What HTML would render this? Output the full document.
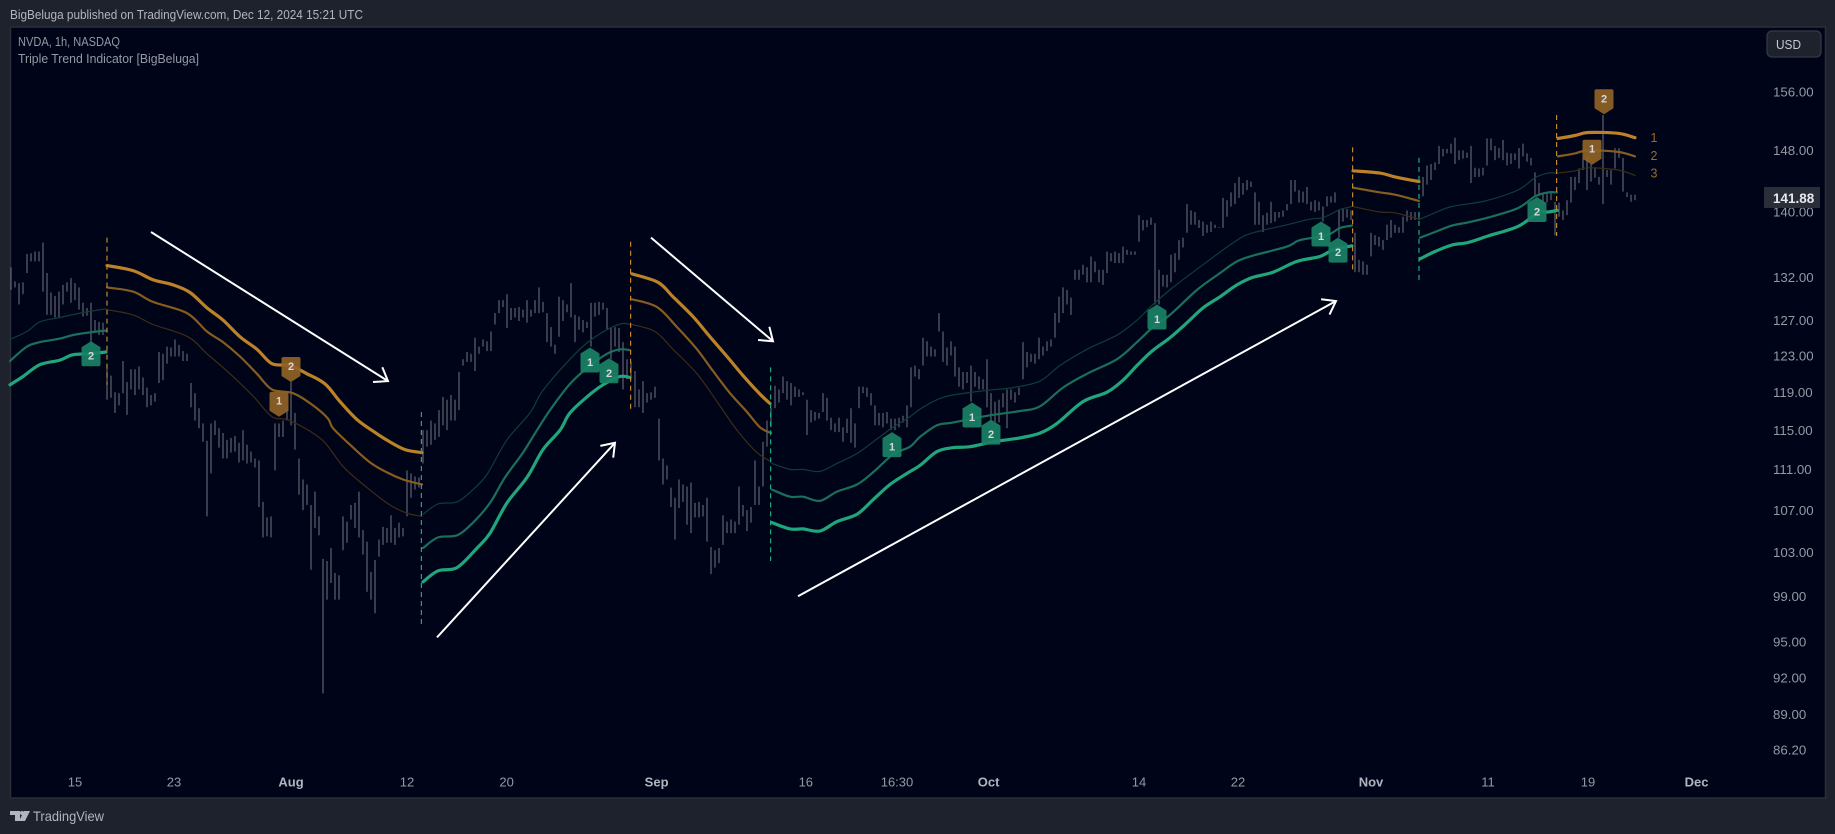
<!DOCTYPE html>
<html lang="en">
<head>
<meta charset="utf-8">
<title>NVDA 1h Triple Trend Indicator</title>
<style>
html,body{margin:0;padding:0;background:#1e222d;width:1835px;height:834px;overflow:hidden}
svg{display:block;font-family:"Liberation Sans",sans-serif}
</style>
</head>
<body>
<svg id="chart" xmlns="http://www.w3.org/2000/svg" width="1835" height="834" viewBox="0 0 1835 834">
  <rect x="0" y="0" width="1835" height="834" fill="#1e222d"/>
  <text x="10" y="19" font-size="12.5" fill="#b2b5be" textLength="353" lengthAdjust="spacingAndGlyphs">BigBeluga published on TradingView.com, Dec 12, 2024 15:21 UTC</text>
  <rect x="10.5" y="27" width="1815" height="771" fill="#000419" stroke="#2a2e39" stroke-width="1.5"/>
  <g id="plot"></g>
  <text x="18" y="46" font-size="12.5" fill="#9598a1" textLength="102" lengthAdjust="spacingAndGlyphs">NVDA, 1h, NASDAQ</text>
  <text x="18" y="63" font-size="12.5" fill="#9598a1" textLength="181" lengthAdjust="spacingAndGlyphs">Triple Trend Indicator [BigBeluga]</text>
  <g>
    <rect x="1767" y="31" width="54" height="26" rx="5" fill="#1e222d" stroke="#363a45" stroke-width="1.2"/>
    <text x="1776" y="49" font-size="13" fill="#c8cad2" textLength="25" lengthAdjust="spacingAndGlyphs">USD</text>
  </g>
  <g id="price-axis"></g>
  <g id="time-axis"></g>
  <g>
    <rect x="1764" y="187" width="56" height="21" fill="#2a2e39"/>
    <text x="1773" y="203" font-size="13.5" font-weight="bold" fill="#e6e8ee">141.88</text>
  </g>
  <g>
    <path d="M10 811h10v10h-5v-6h-5z M24 811h6l-5 10h-6z" fill="#b2b5be"/>
    <circle cx="22" cy="813" r="2" fill="#b2b5be"/>
    <text x="33" y="821" font-size="14" fill="#b2b5be" textLength="71" lengthAdjust="spacingAndGlyphs">TradingView</text>
  </g>
</svg>
<script>
// ---- price bars (bar highs / lows, one value per bar) ----
const barHighs = [
133.2,131.5,131.3,131.4,134.8,134.9,135.1,135.1,136.2,132.5,
130.2,129.8,130.3,131.1,131.4,131.9,131.3,130.8,129,128.4,
129,127,126.8,126.7,122.1,120.8,119,118.9,122.4,120.1,
121.5,121.5,121.8,120.6,119.5,118.7,118.9,123.4,123.2,124,
123.9,124.8,124.2,123.5,123.2,120,118.9,117.3,115.7,113.9,
115.7,116,115.2,114.7,114,114.2,114.4,113.7,115,113.5,
112.8,112.1,111.9,107.8,106.3,106.4,115.7,115.7,116,117.4,
120.1,116.8,112.1,110,109.5,107.5,108.8,106.4,102.4,102.2,
103.4,101.1,100.9,106.4,105.9,107.5,107.7,108.8,105.1,104,
101.2,102.3,104.2,105.4,105.3,106.5,105.3,105.8,105.3,110.9,
110.6,110.3,110.2,115,115,116,115.7,117.1,118.5,118.2,
118.7,118.2,121.2,122.6,123.4,123.2,125,124,124.8,124.6,
125.7,127.8,129.3,129.3,130,128.4,128.4,128.5,128.2,129.3,
128.2,129.3,130.8,129.1,127.8,126.2,124.2,129.7,129.3,128.8,
131.3,127.6,127.4,127,126.8,129,129,129.1,129,128.4,
126.1,126.2,126.1,124.5,122.6,122.3,121.3,119.3,120.2,118.9,
119,119.6,116.2,112.1,111.4,109.2,108.2,110,109.5,109.3,
109.7,107.7,107.8,107.5,108.2,103.5,103.2,103.4,106.5,105.9,
106.1,105.9,109.3,107.5,107,107.3,111.9,109.3,113.8,116,
117.3,119.7,119.3,120.7,120.2,120,119.6,119.3,119,118.2,
117.1,116.9,116.8,118.9,118.4,116.3,115.7,116.3,115.3,116.2,
117.3,115.7,119.6,119.6,119.5,118.9,117.6,116.8,116.8,116.9,
116.2,116.2,116.3,116.5,117.6,121.7,121.9,121.5,125,124.6,
124,123.7,127.8,125.7,123.9,124.6,124,121.7,121.2,121.2,
121.9,121.2,120.7,120.4,122.6,118.9,118,118.2,118.9,119.3,
119.3,119,119.5,124.5,123.4,123.2,123.2,125,124,124.6,
124.8,127.8,129.7,130.8,130.5,129.6,132.9,132.9,133.5,133.2,
134.5,133.9,132.9,132.9,135.1,134.9,135.1,134.9,135.7,135.3,
135.1,135.1,139.6,139,139,139.3,138.6,132.9,132.3,132.3,
134.7,134.9,136.5,136.8,141,140.2,140,139,138.8,138.4,
138.8,138.4,138.1,141.8,141.5,142.5,143.7,144.5,143.7,144.1,
143.9,142.5,141.3,139.6,139.9,141.3,140,140,140.2,141,
144.1,144.1,142.8,142.6,143.2,141.3,141.5,141.3,140.7,142,
142,142.5,140.2,140.4,140.4,140.2,137.4,134.1,133.9,133.5,
137.4,137.1,136.9,136.5,138.4,139,138.4,138.1,139.4,140.2,
140,140,140,144.5,146,146.2,146.4,148.6,148.2,148.2,
148.9,149.7,148,148,147.7,148.6,145.7,145.6,145.7,149.6,
149.6,148.6,148.3,149.4,147.7,147.6,147.6,148.3,148.9,147.6,
147,145.1,143.7,142.5,142.6,142.5,141.3,141.2,140.2,141.5,
144.5,144.5,145.6,147,147.2,146.2,145.7,144.5,152.8,145.4,
145.4,148.3,148.3,147,142.5,142.2,142.2];
const barLows = [
130.5,130.8,128.8,130,132.5,133.9,133.9,133.9,130.3,127.6,
127.6,127.3,127.3,128.8,130.3,129,129.3,128.2,127.4,127.5,
124,125.6,125.3,125.3,118.2,118.4,116.8,117.6,118.9,116.6,
119.3,118.7,119.3,118.7,117.4,117.6,118,120,120.3,122.1,
122.9,122.9,122.9,122.4,122.4,117.4,116,115.2,113.8,106.4,
110.6,114.5,113.2,112.1,112.1,112.7,112.8,111.7,111.9,111.6,
111.7,111.2,107.3,104.4,104.5,104.4,110.9,114.3,114.3,116,
115.5,113,108.5,107,107.5,101.4,105.3,104.6,90.7,98.7,
100.2,98.7,98.7,103.2,103.9,106.1,105.3,104.4,102.8,99.4,
98.7,97.5,102.6,103.7,103.9,103.9,103.7,104.4,104.5,106.4,
108.2,109,109.2,111.6,113.3,113.5,114,114.3,115.5,115,
116,116,117.1,121.9,122.3,122.3,121.3,123.2,124,123.5,
123.5,126.5,127.8,128.5,126.1,127,127.3,126.9,127.3,126.7,
127.4,127.8,127.8,127.9,124.5,124,123.2,125.1,126.9,127.9,
127.3,124.5,125.9,125.6,126.1,124,127.4,127.6,128.2,125.9,
122.6,124,123.4,119.3,120.4,120.4,117.4,117.4,116.8,117.9,
118.2,118.4,111.9,109.5,110,107.3,104.2,107.2,107.8,105.6,
104.8,106.3,106.3,106.4,104,101,101.6,102,103.7,104.8,
104.8,104.8,105.6,106.4,105,105.8,107.5,107.5,109.3,113.3,
115.3,117.3,117.9,118.9,118.2,117.6,118.5,118.5,118.7,114.5,
115.8,116,116.2,116.9,116,115,114.8,114.8,113.8,114.7,
113.7,113.2,117.3,118.9,118.5,117.6,115.5,115.5,115.3,115.7,
115,115,115.3,115.8,115.3,117.4,120.7,120.4,121.9,122.9,
122.9,122.9,125.7,122.3,121.9,123,120.7,119.6,119.3,120,
118,119.6,119.3,119.3,117.4,116,115.8,115.8,117.4,115.2,
118.2,117.9,118.7,120.4,121.7,122.3,122.1,122.6,123,123.5,
124,125,126.7,127.8,128.8,127.6,131.7,131.7,132.3,131.4,
131.4,132.6,131.4,131.1,132.5,133.9,133.7,133.7,133.7,134.7,
134.7,134.7,136.3,137.7,138.1,138.4,128.8,128.8,130.9,130.8,
131.4,132.6,134.1,135.6,137.4,138.4,138.4,138,137,137.4,
137.5,138,138,138,139.4,140.7,141,141.8,142.2,142.8,
143.2,138.4,138.4,137.5,138.4,138.6,138.8,139.3,139.4,140.2,
141,142.6,141.2,141.2,141,140.2,140,140.2,138.8,140.7,
141.2,141.2,136.8,138.8,139.3,139,132.6,132.6,132.3,132.3,
134.5,135.9,135.7,135.3,136.5,136.8,137.4,137.4,137.4,138.8,
139,139,139,142,143.5,144.1,145.4,146.2,147.2,147.6,
147.6,146.2,146.7,146.9,147,143.7,144.5,144.5,144.7,146,
148,146.7,147,146.7,146,146.2,146.7,145.6,147.2,146.5,
146,142,142,141,141.2,141.5,137.1,139.4,139,139.6,
141.2,142.8,143.7,145.4,142.8,143.9,144.4,143.5,141,144.5,
143.5,145.6,147,142.6,141.9,141.3,141.5];

// ---- trend lines: [bar index, price] samples ----
const bull1Outer = [[-0.25,119.8],[3,120.7],[7.25,122],[12.25,122.5],[15.5,123.1],[19.75,123.2],[23.75,123.4]];
const bull1Middle = [[-0.25,122.4],[4,124],[7.25,124.5],[12.25,124.9],[15.5,125.3],[19.75,125.6],[23.75,125.8]];
const bull1Inner = [[-0.25,124.8],[4,125.7],[7.25,126.8],[12.25,127.3],[17.25,127.8],[23.75,128.3]];
const bear1Outer = [[24,133.4],[30.5,132.8],[35.5,131.7],[40.5,131.1],[44.75,130.2],[49,128.4],[53,127],[57.25,125.1],[61.5,123.7],[65.25,122.1],[69.75,121.9],[74,121],[78.5,119.9],[82.25,118],[86.5,116.1],[90.5,114.9],[94.25,113.9],[98.5,113],[102.75,112.7]];
const bear1Middle = [[24,130.8],[30.5,130.3],[35.5,129.1],[44,127.8],[49,125.7],[53,124.5],[57.25,122.9],[61.5,121],[65.25,119.3],[70.5,118.9],[75.5,117.6],[79.25,116.2],[80.5,115.2],[84.75,113.5],[89.75,111.7],[94,110.7],[98,110],[102.75,109.5]];
const bear1Inner = [[24,128.2],[30.5,127.6],[35.5,126.5],[44.25,125.1],[49,123.2],[54,121.3],[60.5,118.6],[65.25,116.4],[69.75,116],[77.75,114],[83,111.3],[89,109.2],[94.75,107.5],[99,106.7],[102.75,106.4]];
const bull2Outer = [[103,100.3],[106.75,101.3],[111.5,101.6],[116.5,103.4],[119.75,104.8],[124,107.7],[129,110.2],[133,113],[137.25,115],[139.75,116.8],[144.25,118.6],[148,119.8],[152.25,120.7],[154.75,120.6]];
const bull2Middle = [[103,103.4],[106.75,104.4],[111.5,104.6],[115.5,105.8],[119.75,107.7],[123.5,110.2],[128,112.7],[131.5,115],[134.75,117.1],[139.75,119.9],[144.25,121.7],[149,123.2],[152.25,123.7],[154.75,123.6]];
const bull2Inner = [[103,106.6],[106.75,107.6],[111.5,107.8],[115.5,109],[119,110.5],[124,114],[129.75,116.8],[133,119.2],[139.75,122.6],[144.25,124.5],[149,125.9],[152.75,126.6],[154.75,126.5]];
const bear2Outer = [[155.25,132.4],[161.75,131.4],[165.5,129.7],[170.5,127.4],[174.75,125.1],[179,122.9],[183,120.8],[187.25,118.8],[189.75,117.8]];
const bear2Middle = [[155.25,129.4],[161.5,128.5],[166.5,126.2],[171.5,123.7],[175.5,121.3],[179.75,118.9],[184,116.9],[187.25,115.3],[190,114.7]];
const bear2Inner = [[155.25,126.5],[161,125.7],[165.5,123.7],[171.5,121],[176.5,118],[181.5,115],[186.5,112.7],[190,111.8]];
const bull3Outer = [[190.25,105.8],[194.75,105.2],[198,105.2],[202.25,105],[206.5,105.9],[211.5,106.6],[215.5,108],[219.75,109.5],[224,110.6],[227.25,111.4],[231.5,112.8],[235.5,113.2],[239.75,113.3],[245.5,113.8],[252.25,114.2],[257.25,114.7],[261.5,115.7],[268,118],[274,119],[278,120.3],[281.5,121.9],[285.25,123.5],[289.75,125],[294,126.7],[298,128.4],[302.25,129.7],[306.5,131.1],[310.5,132],[315.5,132.6],[321.5,133.9],[327.25,134.5],[330.5,135.3],[335.25,135.8]];
const bull3Middle = [[190.25,109],[194.75,108.3],[198,108.3],[202.25,107.9],[206.5,108.8],[211.5,109.5],[215.5,110.7],[220.5,112.5],[224.75,113.3],[227.25,114.3],[231.5,115.5],[235.5,115.8],[244,116.5],[252.25,117],[257.25,117.5],[263,119.5],[269,121],[276.5,122.6],[281.5,124.5],[285.5,126.2],[289.75,127.6],[296.5,130.5],[302.25,132.5],[306.5,133.9],[310.5,134.6],[319,135.7],[322.25,136.5],[329,137.1],[332.25,138],[335.25,138.3]];
const bull3Inner = [[190.25,111.6],[194.75,111],[198,111],[202.25,110.8],[206.5,111.6],[211.5,112.6],[216.5,114.1],[220.5,115.3],[224.75,116.4],[227.25,117.2],[231.5,118.2],[235.5,118.7],[244,119.2],[250.5,119.5],[257.25,120.2],[262.25,121.9],[269,123.7],[276.5,125.3],[281.5,127],[285.5,128.8],[290.5,130.8],[298,133.5],[306.5,136.5],[310.5,137.4],[319,138.4],[324.75,139.1],[328,139.3],[332.25,140.3],[335.25,140.7]];
const bear3Outer = [[335.5,145.3],[342.25,145],[346,144.5],[352,143.9]];
const bear3Middle = [[335.5,143.1],[342.25,142.5],[346,142.2],[352,141.4]];
const bear3Inner = [[335.5,140.7],[342.25,140],[346,139.9],[352,139.1]];
const bull4Outer = [[352.25,134.2],[356,135.1],[360.25,135.9],[364.25,136.2],[369.25,137],[376.75,138.2],[381.75,139.9],[384.25,140],[386.5,140.2]];
const bull4Middle = [[352.25,136.8],[356,137.5],[360.25,138.3],[364.25,138.7],[369.25,139.3],[376.75,140.5],[381,142],[384.25,142.5],[386.5,142.5]];
const bull4Inner = [[352.25,139.1],[356,139.9],[360.25,140.7],[368.5,141.4],[376.75,142.8],[381,144.4],[384.25,145],[386.5,145]];
const bear4Outer = [[386.75,149.6],[391,150],[394.25,150.4],[401.75,150.3],[406,149.7]];
const bear4Middle = [[386.75,147.2],[391,147.6],[394.25,148],[401.75,147.8],[406,147.2]];
const bear4Inner = [[386.75,145],[391,145.3],[394.25,145.7],[401.75,145.4],[406,144.7]];

// ---- trend reversal dashed lines ----
const reversalIndex = [24,102.6,154.9,189.9,335.4,352,386.4];
const reversalTop = [136.8,116.9,136.3,121.7,148.4,147,152.8];
const reversalBottom = [119.8,96.4,116.9,102.2,132.6,131.3,137];
const reversalSide = ['bear','bull','bear','bull','bear','bull','bear'];

// ---- retest badges ----
const retestIndex = [20,144.75,149.5,220.25,240.25,245,286.5,327.5,331.75,381.5,70,67,398.25,395.25];
const retestPrice = [124.6,123.9,122.7,114.8,117.9,116.1,128.8,138.8,136.8,141.9,120.1,116.4,152.9,146.1];
const retestLabel = ['2','1','2','1','1','2','1','1','2','2','2','1','2','1'];
const retestSide = ['bull','bull','bull','bull','bull','bull','bull','bull','bull','bull','bear','bear','bear','bear'];

// ---- drawn white arrows: start and end as bar index / price ----
const arrowStartIndex = [35,106.5,160,196.75];
const arrowStartPrice = [137.5,95.4,136.8,99];
const arrowEndIndex = [94.25,151,190.5,331.25];
const arrowEndPrice = [120.2,113.7,124.6,129.2];

// ---- axes ----
const priceTicks = [156,148,140,132,127,123,119,115,111,107,103,99,95,92,89,86.2];
const timeTickLabels = ['15','23','Aug','12','20','Sep','16','16:30','Oct','14','22','Nov','11','19','Dec'];
const timeTickIndex = [16,40.75,70,99,123.9,161.4,198.7,221.5,244.4,282,306.75,340,369.25,394.25,421.4];
const timeTickBold = ['Aug','Sep','Oct','Nov','Dec'];
const lineEndLabels = ['1','2','3'];
const lineEndPrices = [149.7,147.3,145];

const SVGNS = 'http://www.w3.org/2000/svg';
const X_ORIGIN = 11, X_STEP = 4, Y_ORIGIN = 92, Y_SCALE = 1109, Y_REF = 156;
function xScale(i){ return X_ORIGIN + X_STEP * i; }
function yScale(p){ return Y_ORIGIN + (Math.log(Y_REF) - Math.log(p)) * Y_SCALE; }
function make(tag, attrs, parent){
  const el = document.createElementNS(SVGNS, tag);
  for (const k in attrs) el.setAttribute(k, attrs[k]);
  parent.appendChild(el);
  return el;
}
function smoothPath(samples){
  const p = samples.map(function(d){ return [xScale(d[0]), yScale(d[1])]; });
  let d = 'M' + p[0][0].toFixed(1) + ' ' + p[0][1].toFixed(1);
  for (let i = 0; i < p.length - 1; i++){
    const a = p[Math.max(i - 1, 0)], b = p[i], c = p[i + 1], e = p[Math.min(i + 2, p.length - 1)];
    const c1x = b[0] + (c[0] - a[0]) / 6, c1y = b[1] + (c[1] - a[1]) / 6;
    const c2x = c[0] - (e[0] - b[0]) / 6, c2y = c[1] - (e[1] - b[1]) / 6;
    d += ' C' + c1x.toFixed(1) + ' ' + c1y.toFixed(1) + ' ' + c2x.toFixed(1) + ' ' + c2y.toFixed(1) + ' ' + c[0].toFixed(1) + ' ' + c[1].toFixed(1);
  }
  return d;
}
const plot = document.getElementById('plot');
const priceAxis = document.getElementById('price-axis');
const timeAxis = document.getElementById('time-axis');

const barsGroup = make('g', {}, plot);


barHighs.forEach(function(h, i){
  const el = make('line', {x1:xScale(i), x2:xScale(i), y1:yScale(h), y2:yScale(barLows[i]), stroke:'#6d707c', 'stroke-width':1.05}, barsGroup);
  
  
});

const bullStyle = {outer:['#21a67c',3.2], middle:['#1a6f5b',2.2], inner:['#0e3d38',1.2]};
const bearStyle = {outer:['#bd8228',3.2], middle:['#875c21',2.2], inner:['#3d2c15',1.2]};
const trendSegments = [
  [bull1Outer,'bull','outer'],[bull1Middle,'bull','middle'],[bull1Inner,'bull','inner'],
  [bear1Outer,'bear','outer'],[bear1Middle,'bear','middle'],[bear1Inner,'bear','inner'],
  [bull2Outer,'bull','outer'],[bull2Middle,'bull','middle'],[bull2Inner,'bull','inner'],
  [bear2Outer,'bear','outer'],[bear2Middle,'bear','middle'],[bear2Inner,'bear','inner'],
  [bull3Outer,'bull','outer'],[bull3Middle,'bull','middle'],[bull3Inner,'bull','inner'],
  [bear3Outer,'bear','outer'],[bear3Middle,'bear','middle'],[bear3Inner,'bear','inner'],
  [bull4Outer,'bull','outer'],[bull4Middle,'bull','middle'],[bull4Inner,'bull','inner'],
  [bear4Outer,'bear','outer'],[bear4Middle,'bear','middle'],[bear4Inner,'bear','inner']
];
trendSegments.forEach(function(seg){
  const style = (seg[1] === 'bull' ? bullStyle : bearStyle)[seg[2]];
  const el = make('path', {d:smoothPath(seg[0]), fill:'none', stroke:style[0], 'stroke-width':style[1], 'stroke-linejoin':'round', 'stroke-linecap':'round'}, plot);
  
  
});

reversalIndex.forEach(function(idx, i){
  const color = reversalSide[i] === 'bull' ? '#1fa67c' : '#c4862a';
  const el = make('line', {x1:xScale(idx), x2:xScale(idx), y1:yScale(reversalTop[i]), y2:yScale(reversalBottom[i]), stroke:color, 'stroke-width':1.2, 'stroke-dasharray':'5 4'}, plot);
  
  
});

retestIndex.forEach(function(idx, i){
  const x = xScale(idx), y = yScale(retestPrice[i]), up = retestSide[i] === 'bull', w = 9.5;
  const s = up ? 1 : -1;
  const d = 'M' + x + ' ' + y +
    ' L' + (x + w) + ' ' + (y + s * 6) +
    ' L' + (x + w) + ' ' + (y + s * 23) +
    ' Q' + (x + w) + ' ' + (y + s * 25) + ' ' + (x + w - 2) + ' ' + (y + s * 25) +
    ' L' + (x - w + 2) + ' ' + (y + s * 25) +
    ' Q' + (x - w) + ' ' + (y + s * 25) + ' ' + (x - w) + ' ' + (y + s * 23) +
    ' L' + (x - w) + ' ' + (y + s * 6) + ' Z';
  const badge = make('path', {d:d, fill: up ? '#1a8165' : '#8f6326', 'fill-opacity':0.92}, plot);
  
  
  const label = make('text', {x:x, y: up ? y + 18.5 : y - 12, 'text-anchor':'middle', 'font-size':11, 'font-weight':'bold', fill:'#d5d7dc'}, plot);
  
  
  label.textContent = retestLabel[i];
});

arrowStartIndex.forEach(function(idx, i){
  const x1 = xScale(idx), y1 = yScale(arrowStartPrice[i]);
  const x2 = xScale(arrowEndIndex[i]), y2 = yScale(arrowEndPrice[i]);
  const angle = Math.atan2(y2 - y1, x2 - x1), len = 15, spread = 0.62;
  const hx1 = x2 - len * Math.cos(angle - spread), hy1 = y2 - len * Math.sin(angle - spread);
  const hx2 = x2 - len * Math.cos(angle + spread), hy2 = y2 - len * Math.sin(angle + spread);
  const d = 'M' + x1 + ' ' + y1 + ' L' + x2 + ' ' + y2 + ' M' + hx1 + ' ' + hy1 + ' L' + x2 + ' ' + y2 + ' L' + hx2 + ' ' + hy2;
  const el = make('path', {d:d, fill:'none', stroke:'#ffffff', 'stroke-width':2, 'stroke-linecap':'butt', 'stroke-linejoin':'miter'}, plot);
  
  
});

lineEndLabels.forEach(function(txt, i){
  const el = make('text', {x:1654, y:yScale(lineEndPrices[i]) + 4.5, 'text-anchor':'middle', 'font-size':12.5, fill:'#9a6a26'}, plot);
  
  
  el.textContent = txt;
});

priceTicks.forEach(function(p){
  const el = make('text', {x:1773, y:yScale(p) + 4.7, 'font-size':13.3, fill:'#9598a1'}, priceAxis);
  
  
  el.textContent = p.toFixed(2);
});

timeTickLabels.forEach(function(txt, i){
  const bold = timeTickBold.indexOf(txt) >= 0;
  const el = make('text', {x:xScale(timeTickIndex[i]), y:786.5, 'text-anchor':'middle', 'font-size':13, 'font-weight': bold ? 'bold' : 'normal', fill: bold ? '#b2b5be' : '#9598a1'}, timeAxis);
  
  
  el.textContent = txt;
});
</script>
</body>
</html>
